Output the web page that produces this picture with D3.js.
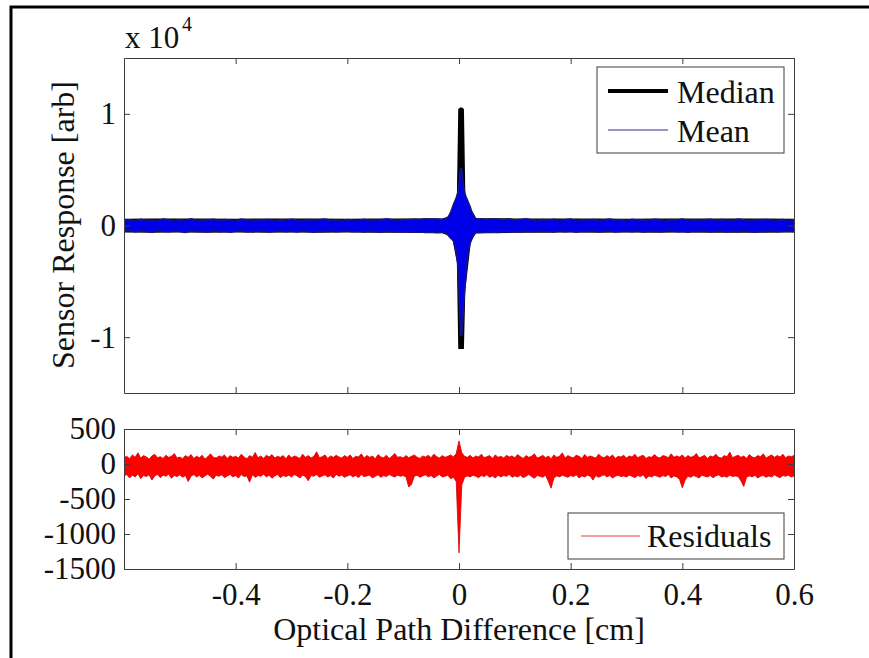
<!DOCTYPE html>
<html><head><meta charset="utf-8">
<script src="https://cdn.jsdelivr.net/npm/d3@7"></script>
<style>
body{margin:0;background:#fff}
svg{display:block}
text{font-family:"Liberation Serif","Times New Roman",serif;fill:#111}
</style>
</head><body>
<svg id="c" width="869" height="658"></svg>
<script>
// ---------------- DATA ----------------
// Top panel x grid: coarse outside, fine near zero path difference
const topXLeft = d3.range(57).map(i => +(-0.6 + i * 0.01).toFixed(4));
const topXCenter = d3.range(25).map(i => +(-0.03 + i * 0.0025).toFixed(4));
const topXRight = d3.range(57).map(i => +(0.04 + i * 0.01).toFixed(4));
const topX = [...topXLeft, ...topXCenter, ...topXRight];

// Mean interferogram envelope (upper / lower), raw units
const meanHi = [
  480,520,430,560,470,500,440,590,510,460,
  530,480,600,450,520,490,560,470,540,500,
  450,580,510,470,530,490,550,460,520,480,
  570,500,460,540,480,520,590,470,510,450,
  540,500,480,560,470,530,490,610,520,480,
  550,510,570,530,600,560,590,
  550,600,620,680,750,950,1200,1550,1900,2200,2500,2900,3800,5100,5100,3800,3000,2600,2300,2000,1700,1300,1000,750,620,
  590,540,610,560,520,580,490,550,600,510,
  470,540,500,560,480,530,590,460,520,500,
  550,470,510,580,490,530,460,560,500,520,
  480,570,510,450,540,500,590,470,530,490,
  520,560,480,540,500,470,580,510,460,530,
  490,550,500,470,540,480,510
];
const meanLo = [
  -520,-470,-560,-490,-540,-600,-480,-530,-570,-500,
  -550,-620,-490,-540,-510,-580,-470,-560,-520,-600,
  -530,-490,-570,-510,-550,-480,-590,-530,-500,-560,
  -520,-580,-490,-540,-610,-510,-550,-480,-570,-520,
  -500,-560,-530,-590,-510,-550,-600,-520,-570,-540,
  -580,-560,-610,-590,-630,-600,-650,
  -600,-620,-650,-700,-850,-1000,-1150,-1250,-1400,-1900,-2500,-3400,-5800,-9800,-9800,-8000,-6000,-4500,-3000,-2200,-1600,-1300,-1000,-800,-650,
  -640,-600,-580,-620,-560,-600,-540,-590,-520,-570,
  -500,-550,-530,-580,-490,-560,-520,-600,-510,-550,
  -480,-570,-530,-500,-590,-540,-510,-560,-490,-580,
  -530,-500,-570,-520,-480,-560,-540,-600,-510,-550,
  -490,-570,-530,-500,-580,-520,-560,-490,-540,-600,
  -510,-550,-480,-570,-530,-500,-560
];

// Median interferogram envelope
const medX = [-0.6,-0.55,-0.5,-0.45,-0.4,-0.35,-0.3,-0.25,-0.2,-0.15,-0.1,-0.05,
  -0.03,-0.02,-0.01,-0.0025,0,0.0025,0.005,0.0075,0.01,0.02,0.03,
  0.05,0.1,0.15,0.2,0.25,0.3,0.35,0.4,0.45,0.5,0.55,0.6];
const medHi = [540,560,550,570,540,560,550,565,545,560,570,590,
  560,700,1100,2600,10400,10500,10500,10400,2800,1500,600,
  590,570,560,550,565,545,560,550,570,555,560,545];
const medLo = [-560,-580,-570,-590,-560,-575,-565,-585,-560,-580,-590,-610,
  -620,-800,-1300,-3300,-11000,-11000,-11000,-11000,-5800,-1400,-600,
  -620,-590,-580,-570,-585,-560,-580,-570,-590,-575,-580,-565];

// Residuals envelope, x grid step 0.005 cm
const resX = d3.range(241).map(i => +(-0.6 + i * 0.005).toFixed(4));
const resHi = [
  90,110,75,130,95,160,85,120,100,70,115,140,90,105,80,125,95,110,150,85,
  100,75,120,95,135,80,110,90,125,70,105,145,95,85,115,100,130,80,120,95,
  110,85,140,100,75,120,95,165,90,115,80,125,100,135,85,110,95,120,75,130,
  90,115,100,80,140,95,120,85,110,175,90,105,130,80,115,95,125,100,85,120,
  95,130,80,110,100,145,85,120,95,115,75,135,100,90,125,80,110,150,95,105,
  85,120,90,110,130,95,80,115,100,125,90,140,105,85,120,95,110,130,100,150,
  330,160,110,95,125,85,115,100,140,90,105,120,80,130,95,110,85,125,100,115,
  90,135,105,80,120,95,110,145,85,100,125,90,115,75,130,95,110,160,85,120,
  100,90,125,110,80,135,95,115,100,85,140,105,90,120,95,130,80,110,100,125,
  85,115,100,140,90,110,125,80,105,95,135,100,85,120,110,90,145,95,115,100,
  130,85,120,95,110,150,90,105,125,80,115,100,140,95,85,120,105,170,90,110,
  125,95,115,80,135,100,90,120,105,145,85,110,130,95,120,100,140,90,115,105,
  120
];
const resLo = [
  -170,-150,-200,-160,-185,-140,-210,-165,-180,-155,-230,-170,-150,-195,-160,-175,-145,-205,-165,-180,
  -155,-190,-165,-250,-175,-150,-185,-160,-200,-170,-145,-180,-215,-160,-175,-155,-195,-170,-150,-185,
  -165,-200,-150,-180,-170,-260,-155,-190,-165,-175,-145,-185,-160,-205,-170,-150,-195,-165,-180,-160,
  -185,-150,-170,-200,-160,-180,-240,-165,-175,-150,-190,-170,-155,-185,-165,-200,-150,-175,-160,-190,
  -170,-155,-185,-165,-195,-150,-180,-170,-160,-200,-175,-155,-190,-165,-180,-150,-170,-185,-160,-175,
  -165,-185,-330,-290,-175,-160,-190,-170,-155,-185,-165,-200,-170,-150,-185,-175,-160,-210,-190,-250,
  -1270,-300,-190,-170,-185,-160,-175,-195,-165,-180,-155,-190,-170,-200,-160,-185,-165,-175,-150,-190,
  -170,-185,-160,-195,-175,-150,-180,-205,-165,-175,-190,-160,-250,-345,-200,-170,-185,-160,-175,-190,
  -165,-180,-155,-200,-170,-185,-160,-175,-230,-165,-190,-170,-155,-185,-165,-200,-175,-160,-180,-170,
  -185,-160,-175,-195,-165,-180,-155,-210,-170,-185,-160,-175,-190,-165,-180,-150,-200,-170,-185,-220,
  -340,-230,-175,-190,-165,-180,-200,-160,-175,-185,-165,-195,-170,-155,-185,-175,-190,-160,-180,-170,
  -180,-240,-320,-190,-170,-185,-160,-200,-175,-165,-190,-170,-185,-155,-180,-195,-165,-175,-160,-185,
  -170
];

// Tick values
const xTicks = [-0.4, -0.2, 0, 0.2, 0.4, 0.6];
const topYTicks = [-10000, 0, 10000];
const botYTicks = [-1500, -1000, -500, 0, 500];
const legendTop = ["Median", "Mean"];
const legendBot = ["Residuals"];

// ---------------- DRAW ----------------
const svg = d3.select("#c");
svg.append("rect").attr("width", 869).attr("height", 658).attr("fill", "#fff");

const FS = 31;
const axisColor = "#3c3c3c";
const x = d3.scaleLinear().domain([-0.6, 0.6]).range([124, 794]);
const yT = d3.scaleLinear().domain([-15000, 15000]).range([393, 58]);
const yB = d3.scaleLinear().domain([-1500, 500]).range([569, 429]);

// outer frame
svg.append("path").attr("d", "M11,658V7H869").attr("fill", "none")
  .attr("stroke", "#000").attr("stroke-width", 3);

// clips
const defs = svg.append("defs");
defs.append("clipPath").attr("id", "clipT").append("rect")
  .attr("x", 124).attr("y", 58).attr("width", 670).attr("height", 335);
defs.append("clipPath").attr("id", "clipB").append("rect")
  .attr("x", 124).attr("y", 429).attr("width", 670).attr("height", 140);

// Top panel: median (black) below mean (blue)
const gT = svg.append("g").attr("clip-path", "url(#clipT)");
const medArea = d3.area().x((d, i) => x(medX[i])).y0((d, i) => yT(medLo[i])).y1((d, i) => yT(medHi[i]));
gT.append("path").datum(medX).attr("d", medArea).attr("fill", "#000").attr("stroke", "#000").attr("stroke-width", 1.5);
const meanArea = d3.area().x((d, i) => x(topX[i])).y0((d, i) => yT(meanLo[i])).y1((d, i) => yT(meanHi[i]));
gT.append("path").datum(topX).attr("d", meanArea).attr("fill", "#0000e8").attr("stroke", "#16167e").attr("stroke-width", 1.4);

// Bottom panel: residuals
const gB = svg.append("g").attr("clip-path", "url(#clipB)");
const resArea = d3.area().x((d, i) => x(resX[i])).y0((d, i) => yB(resLo[i])).y1((d, i) => yB(resHi[i]));
gB.append("path").datum(resX).attr("d", resArea).attr("fill", "#ff0000").attr("stroke", "#d00000").attr("stroke-width", 0.8);

// Axes
function styleAxis(g) {
  g.selectAll("path.domain").attr("stroke", axisColor).attr("stroke-width", 1);
  g.selectAll(".tick line").attr("stroke", axisColor).attr("stroke-width", 1);
  g.selectAll(".tick text").attr("font-size", FS).attr("fill", "#111")
    .attr("font-family", '"Liberation Serif","Times New Roman",serif');
}
const fmtX = d => d === 0 ? "0" : String(d);

// top panel axes
svg.append("g").attr("transform", "translate(124,0)")
  .call(d3.axisLeft(yT).tickValues(topYTicks).tickSizeInner(-6).tickSizeOuter(0).tickPadding(8).tickFormat(d => String(d / 1e4)))
  .call(styleAxis);
svg.append("g").attr("transform", "translate(794,0)")
  .call(d3.axisRight(yT).tickValues(topYTicks).tickSizeInner(-6).tickSizeOuter(0).tickFormat(""))
  .call(styleAxis);
svg.append("g").attr("transform", "translate(0,58)")
  .call(d3.axisTop(x).tickValues(xTicks).tickSizeInner(-6).tickSizeOuter(0).tickFormat(""))
  .call(styleAxis);
svg.append("g").attr("transform", "translate(0,393)")
  .call(d3.axisBottom(x).tickValues(xTicks).tickSizeInner(-6).tickSizeOuter(0).tickFormat(""))
  .call(styleAxis);

// bottom panel axes
svg.append("g").attr("transform", "translate(124,0)")
  .call(d3.axisLeft(yB).tickValues(botYTicks).tickSizeInner(-6).tickSizeOuter(0).tickPadding(8).tickFormat(d => String(d)))
  .call(styleAxis);
svg.append("g").attr("transform", "translate(794,0)")
  .call(d3.axisRight(yB).tickValues(botYTicks).tickSizeInner(-6).tickSizeOuter(0).tickFormat(""))
  .call(styleAxis);
svg.append("g").attr("transform", "translate(0,429)")
  .call(d3.axisTop(x).tickValues(xTicks).tickSizeInner(-6).tickSizeOuter(0).tickFormat(""))
  .call(styleAxis);
const xb = svg.append("g").attr("transform", "translate(0,569)")
  .call(d3.axisBottom(x).tickValues(xTicks).tickSizeInner(-6).tickSizeOuter(0).tickPadding(8).tickFormat(fmtX))
  .call(styleAxis);
xb.selectAll(".tick text").attr("dy", null).attr("y", 36);

// exponent label
const ex = svg.append("text").attr("x", 125).attr("y", 48).attr("font-size", FS);
ex.append("tspan").text("x 10");
svg.append("text").attr("x", 182).attr("y", 31).attr("font-size", 20).text("4");

// axis titles
svg.append("text").attr("transform", "translate(74,225) rotate(-90)")
  .attr("text-anchor", "middle").attr("font-size", 32).text("Sensor Response [arb]");
svg.append("text").attr("x", 459).attr("y", 640).attr("text-anchor", "middle")
  .attr("font-size", 32).text("Optical Path Difference [cm]");

// Legend top
svg.append("rect").attr("x", 597).attr("y", 67).attr("width", 187).attr("height", 86)
  .attr("fill", "#fff").attr("stroke", axisColor).attr("stroke-width", 1);
svg.append("line").attr("x1", 608).attr("x2", 668).attr("y1", 91).attr("y2", 91)
  .attr("stroke", "#000").attr("stroke-width", 4);
svg.append("line").attr("x1", 608).attr("x2", 668).attr("y1", 130).attr("y2", 130)
  .attr("stroke", "#2a2a90").attr("stroke-width", 1);
svg.append("text").attr("x", 677).attr("y", 103).attr("font-size", FS + 1).text(legendTop[0]);
svg.append("text").attr("x", 677).attr("y", 142).attr("font-size", FS + 1).text(legendTop[1]);

// Legend bottom
svg.append("rect").attr("x", 568).attr("y", 513).attr("width", 216).attr("height", 46)
  .attr("fill", "#fff").attr("stroke", axisColor).attr("stroke-width", 1);
svg.append("line").attr("x1", 581).attr("x2", 640).attr("y1", 536).attr("y2", 536)
  .attr("stroke", "#e04040").attr("stroke-width", 1);
svg.append("text").attr("x", 647).attr("y", 547).attr("font-size", FS + 1).text(legendBot[0]);
</script>
</body></html>
